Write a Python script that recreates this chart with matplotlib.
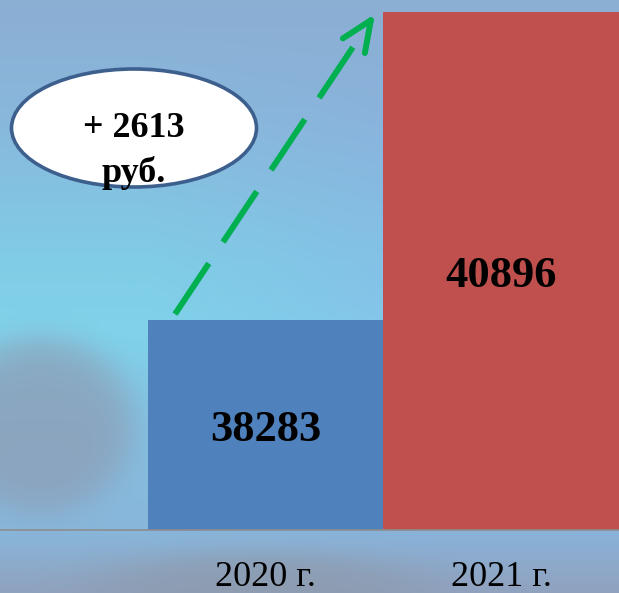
import numpy as np
import matplotlib
matplotlib.use("Agg")
import matplotlib.pyplot as plt
from matplotlib.patches import Ellipse

categories = ["2020 г.", "2021 г."]
values = [38283, 40896]
bar_colors = ["#4F81BD", "#C0504D"]
diff_label = "+ 2613\nруб."

W, H = 619, 593
fig = plt.figure(figsize=(W / 100, H / 100), dpi=100)

# ---- decorative background ----
bg = fig.add_axes([0, 0, 1, 1])
bg.set_axis_off()
yy, xx = np.mgrid[0:H, 0:W].astype(float)
stops_y = [0, 120, 260, 330, 430, 530, 593]
r_s = [0x8C, 0x88, 0x80, 0x80, 0x84, 0x88, 0x90]
g_s = [0xAE, 0xB8, 0xCC, 0xD2, 0xC0, 0xB6, 0xA2]
b_s = [0xD3, 0xDC, 0xE6, 0xEA, 0xE0, 0xDA, 0xBE]
img = np.zeros((H, W, 3))
for k, s in enumerate([r_s, g_s, b_s]):
    col = np.interp(np.arange(H), stops_y, s) / 255.0
    img[:, :, k] = col[:, None]
shift = np.clip((xx - 150) / 300, 0, 1) * np.clip(1 - np.abs(yy - 300) / 300, 0, 1)
img[:, :, 1] -= 0.06 * shift
img[:, :, 0] += 0.02 * shift
# grey swoosh lower left
d = ((xx - 40) / 95) ** 2 + ((yy - 425) / 90) ** 2
blob = np.exp(-d ** 3)
grey = np.array([0x8E, 0x9A, 0xB2]) / 255.0
img = img * (1 - 0.7 * blob[..., None]) + grey * 0.7 * blob[..., None]
d2 = ((xx - 260) / 170) ** 2 + ((yy - 585) / 35) ** 2
blob2 = np.exp(-d2 ** 2)
grey2 = np.array([0x8C, 0x98, 0xA8]) / 255.0
img = img * (1 - 0.6 * blob2[..., None]) + grey2 * 0.6 * blob2[..., None]
bg.imshow(np.clip(img, 0, 1), extent=[0, W, H, 0], aspect="auto")
bg.set_xlim(0, W)
bg.set_ylim(H, 0)

# ---- main chart ----
ax = fig.add_axes([0, (H - 530) / H, 1, 530 / H])
ax.set_facecolor("none")
x = np.arange(len(categories))
ax.bar(x, values, width=1.0, color=bar_colors, zorder=2)
ax.set_ylim(36500, 41000)
ax.set_xlim(-1.128, 1.5)
for s in ["top", "right", "left"]:
    ax.spines[s].set_visible(False)
ax.spines["bottom"].set_color("#8C8C8C")
ax.spines["bottom"].set_linewidth(1.2)
ax.set_yticks([])
ax.set_xticks(x)
ax.set_xticklabels(categories, fontfamily="Liberation Serif", fontsize=26, color="black")
ax.tick_params(axis="x", length=0, pad=22)

ymin = ax.get_ylim()[0]
for i, v in enumerate(values):
    ax.text(i, (ymin + v) / 2 - 45, f"{v}", ha="center", va="center",
            fontfamily="Liberation Serif", fontweight="bold", fontsize=32,
            color="black", zorder=3)

# dashed arrow from 2020 bar top to 2021 bar top
x0, y0 = -0.385, values[0] + 50
x1, y1 = 0.464, values[1] - 15
t_end = 0.92
ax.plot([x0, x0 + (x1 - x0) * t_end], [y0, y0 + (y1 - y0) * t_end],
        color="#00B050", lw=4.3, ls=(0, (10.2, 4.3)),
        dash_capstyle="butt", zorder=4, clip_on=False)
ax.annotate("", xy=(x1, y1), xytext=(x0 + (x1 - x0) * 0.97, y0 + (y1 - y0) * 0.97),
            arrowprops=dict(arrowstyle="->,head_length=2.2,head_width=0.95",
                            color="#00B050", lw=4.3, capstyle="round",
                            joinstyle="round", shrinkA=0, shrinkB=0),
            zorder=4, annotation_clip=False)

# ellipse callout (overlay in figure pixel coordinates)
ov = fig.add_axes([0, 0, 1, 1])
ov.set_axis_off()
ov.set_xlim(0, W)
ov.set_ylim(H, 0)
ov.patch.set_alpha(0)
ov.add_patch(Ellipse((134, 128), 245, 118, facecolor="white",
                     edgecolor="#3D5F8E", lw=2.6, zorder=5))
ov.text(134, 151, diff_label, ha="center", va="center",
        fontfamily="Liberation Serif", fontweight="bold", fontsize=26,
        linespacing=1.4, color="black", zorder=6)

fig.savefig("out.png", dpi=100)
